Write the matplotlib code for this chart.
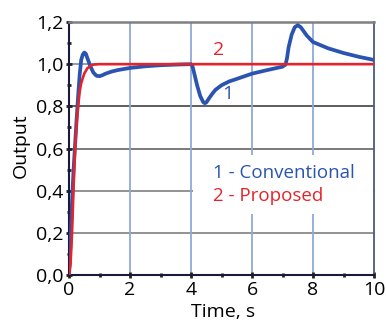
import matplotlib
matplotlib.use("Agg")
import matplotlib.pyplot as plt
from matplotlib.patches import Rectangle
from matplotlib.ticker import MultipleLocator, FuncFormatter

plt.rcParams['font.family'] = ['Open Sans', 'DejaVu Sans']

# Curve 1 - Conventional
t_conv = [0, 0.05, 0.1, 0.15, 0.2, 0.25, 0.3, 0.35, 0.4, 0.45, 0.5, 0.55, 0.6, 0.7, 0.8,
          0.9, 1.0, 1.1, 1.2, 1.4, 1.6, 1.8, 2.0, 2.5, 3.0, 3.5, 4.0, 4.05, 4.1, 4.2,
          4.3, 4.4, 4.45, 4.5, 4.6, 4.7, 4.8, 5.0, 5.25, 5.5, 6.0, 6.5, 7.0, 7.1, 7.15,
          7.2, 7.3, 7.4, 7.5, 7.6, 7.7, 7.8, 8.0, 8.5, 9.0, 9.5, 10.0]
y_conv = [0.0, 0.15, 0.35, 0.5, 0.62, 0.74, 0.85, 0.95, 1.02, 1.045, 1.055, 1.05, 1.03, 0.99, 0.96,
          0.945, 0.943, 0.948, 0.955, 0.965, 0.972, 0.977, 0.982, 0.99, 0.995, 0.998, 1.0, 0.99, 0.96, 0.9,
          0.85, 0.82, 0.815, 0.818, 0.84, 0.86, 0.878, 0.9, 0.918, 0.93, 0.955, 0.972, 0.988, 0.998, 1.03,
          1.08, 1.14, 1.175, 1.185, 1.175, 1.155, 1.135, 1.105, 1.075, 1.053, 1.035, 1.02]

# Curve 2 - Proposed
t_prop = [0, 0.05, 0.1, 0.15, 0.2, 0.25, 0.3, 0.35, 0.4, 0.5, 0.6, 0.7, 0.8, 1.0, 10.0]
y_prop = [0.0, 0.05, 0.2, 0.42, 0.6, 0.72, 0.8, 0.87, 0.91, 0.955, 0.98, 0.992, 0.998, 1.0, 1.0]

x_ticks = [0, 2, 4, 6, 8, 10]
y_ticks = [0.0, 0.2, 0.4, 0.6, 0.8, 1.0, 1.2]

blue = '#2b54b0'
red = '#e5232a'

fig = plt.figure(figsize=(3.86, 3.22), dpi=100)
ax = fig.add_axes([69/386, 47/322, 305/386, 253/322])
ax.set_xlim(0, 10)
ax.set_ylim(0, 1.2)
ax.set_xticks(x_ticks)
ax.set_yticks(y_ticks)
ax.xaxis.set_major_formatter(FuncFormatter(lambda v, p: f"{v:.0f}"))
ax.yaxis.set_major_formatter(FuncFormatter(lambda v, p: f"{v:.1f}".replace('.', ',')))
ax.xaxis.set_minor_locator(MultipleLocator(1))
ax.yaxis.set_minor_locator(MultipleLocator(0.1))
ax.tick_params(which='both', direction='inout', color='#222222', labelsize=14, pad=2)
ax.tick_params(which='major', length=4, width=2)
ax.tick_params(which='minor', length=3, width=2)

grid_h_colors = {0.2: '#8a8a8a', 0.4: '#8a8a8a', 0.6: '#707070', 0.8: '#505050', 1.0: '#7f95c0'}
for y in y_ticks[1:-1]:
    ax.axhline(y, color=grid_h_colors[y], lw=1.3, zorder=1)
for x in x_ticks[1:-1]:
    ax.axvline(x, color='#8fa9d8', lw=1.3, zorder=1)

for s in ['left', 'bottom']:
    ax.spines[s].set_color('#1a1a3a')
    ax.spines[s].set_linewidth(1.5)
ax.spines['top'].set_color('#808080')
ax.spines['top'].set_linewidth(1.8)
ax.spines['right'].set_color('#4a5a80')
ax.spines['right'].set_linewidth(1.3)

ax.add_patch(Rectangle((4.06, 0.29), 5.9, 0.28, facecolor='white', edgecolor='none', zorder=2))

ax.plot(t_conv, y_conv, color=blue, lw=2.7, zorder=3, solid_capstyle='round',
        solid_joinstyle='round', label='1 - Conventional')
ax.plot(t_prop, y_prop, color=red, lw=1.9, zorder=4, label='2 - Proposed')

ax.text(5.2, 0.86, '1', color=blue, fontsize=14, ha='center', va='center', zorder=5)
ax.text(4.9, 1.065, '2', color=red, fontsize=14, ha='center', va='center', zorder=5)

leg = ax.legend(loc='center left', bbox_to_anchor=(4.4, 0.43), bbox_transform=ax.transData,
                handlelength=0, handletextpad=0, frameon=False, fontsize=13.5,
                labelspacing=0.25, borderpad=0)
for txt, c in zip(leg.get_texts(), [blue, red]):
    txt.set_color(c)
leg.set_zorder(6)

ax.set_xlabel('Time, s', fontsize=14)
ax.set_ylabel('Output', fontsize=14)
ax.xaxis.set_label_coords(0.505, -0.11)
ax.yaxis.set_label_coords(-0.13, 0.51)

fig.savefig('out.png', dpi=100)
